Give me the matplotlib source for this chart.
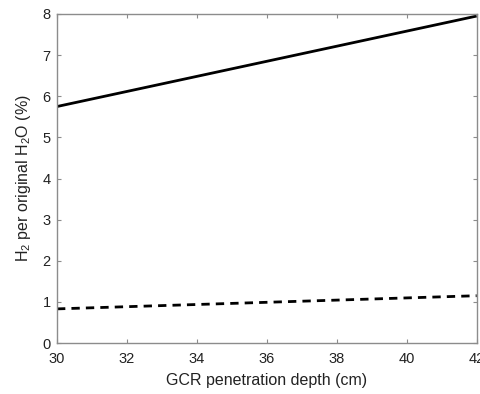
import numpy as np
import matplotlib
matplotlib.use("Agg")
import matplotlib.pyplot as plt

plt.rcParams['font.family'] = ['Liberation Sans', 'DejaVu Sans']

# Data
depth = [30, 36, 42]
h2_solid = [5.75, 6.85, 7.95]
h2_dashed = [0.83, 0.99, 1.15]

x_ticks = [30, 32, 34, 36, 38, 40, 42]
y_ticks = [0, 1, 2, 3, 4, 5, 6, 7, 8]

fig = plt.figure(figsize=(4.81, 3.94), dpi=100)
ax = fig.add_axes([0.1185, 0.1294, 0.8725, 0.8351])

ax.plot(depth, h2_solid, color='black', lw=2.0, solid_capstyle='butt')
ax.plot(depth, h2_dashed, color='black', lw=2.0, dashes=(3, 2.2))

ax.set_xlim(30, 42)
ax.set_ylim(0, 8)
ax.set_xticks(x_ticks)
ax.set_yticks(y_ticks)

for sp in ax.spines.values():
    sp.set_color('#8c8c8c')
    sp.set_linewidth(1.0)
ax.tick_params(direction='in', length=3, width=0.8, color='#8c8c8c',
               top=True, right=True, labelsize=10.5, labelcolor='#222222')
ax.tick_params(axis='x', pad=6.5)
ax.tick_params(axis='y', pad=4.5)

ax.set_xlabel('GCR penetration depth (cm)', fontsize=11.5, color='#222222', labelpad=5)
ax.set_ylabel(r'H$\mathregular{_2}$ per original H$\mathregular{_2}$O (%)',
              fontsize=11.5, color='#222222', labelpad=7)

fig.savefig('out.png', dpi=100)
